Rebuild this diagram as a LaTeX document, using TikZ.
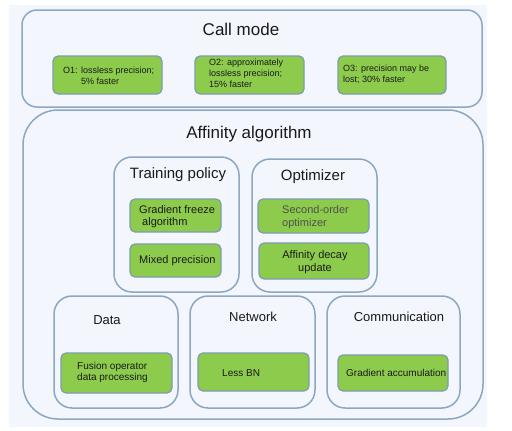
\documentclass[tikz,border=0pt]{standalone}
\usepackage{fontspec}
\setmainfont{Liberation Sans}
\definecolor{bgc}{HTML}{F3F6FD}
\definecolor{framec}{HTML}{8BA7C2}
\definecolor{gfill}{HTML}{8CCB4C}
\definecolor{gdraw}{HTML}{7D9CAE}
\definecolor{txt}{HTML}{1A1A1A}
\definecolor{graytxt}{HTML}{505050}
\tikzset{
  cbox/.style={draw=framec, line width=1.5pt, rounded corners=18pt, inner sep=0pt},
  gbox/.style={draw=gdraw, fill=gfill, line width=1.2pt, rounded corners=5pt, inner sep=0pt},
  bigtitle/.style={font=\fontsize{17}{20}\selectfont, text=txt, inner sep=0pt},
  midtitle/.style={font=\fontsize{15}{18}\selectfont, text=txt, inner sep=0pt},
  smalltitle/.style={font=\fontsize{13}{15}\selectfont, text=txt, inner sep=0pt},
  gtxtA/.style={font=\fontsize{9}{11}\selectfont, text=txt, inner sep=0pt, align=left, anchor=west},
  gtxtB/.style={font=\fontsize{10}{11}\selectfont, text=txt, inner sep=0pt, align=left, anchor=west},
  gtxtC/.style={font=\fontsize{11}{12.5}\selectfont, text=txt, inner sep=0pt, align=left, anchor=west},
}
\begin{document}
\begin{tikzpicture}[x=1pt, y=-1pt]
\useasboundingbox (0,0) rectangle (512,431);
\fill[bgc] (9,5) rectangle (487,427);

% containers
\node[cbox, rounded corners=15pt, minimum width=460pt, minimum height=97pt] (call) at (252,58.5) {};
\node[cbox, rounded corners=35pt, minimum width=460pt, minimum height=309pt] (aff) at (253,264.5) {};
\node[cbox, minimum width=125pt, minimum height=135pt] (train) at (176.5,224.5) {};
\node[cbox, minimum width=125pt, minimum height=133pt] (opt) at (314.5,225.5) {};
\node[cbox, minimum width=124pt, minimum height=112pt] (data) at (116,352) {};
\node[cbox, minimum width=125pt, minimum height=112pt] (net) at (252.5,352) {};
\node[cbox, minimum width=133pt, minimum height=112pt] (comm) at (393.5,352) {};

% titles
\node[bigtitle] (callT) at (241,29) {Call mode};
\node[bigtitle] (affT) at (249,134) {Affinity algorithm};
\node[midtitle] (trainT) at (178,175) {Training policy};
\node[midtitle] (optT) at (313,177) {Optimizer};
\node[smalltitle] (dataT) at (107,320) {Data};
\node[smalltitle] (netT) at (253,317) {Network};
\node[smalltitle] (commT) at (399,317) {Communication};

% green boxes
\node[gbox, minimum width=109pt, minimum height=38pt] (o1) at (107.5,75) {};
\node[gbox, minimum width=109pt, minimum height=38pt] (o2) at (249.5,75) {};
\node[gbox, minimum width=108pt, minimum height=38pt] (o3) at (392,75) {};
\node[gbox, minimum width=91pt, minimum height=33pt] (gf) at (175.5,215.5) {};
\node[gbox, minimum width=91pt, minimum height=33pt] (mp) at (175.5,260.5) {};
\node[gbox, minimum width=111pt, minimum height=34pt] (so) at (313.5,216) {};
\node[gbox, minimum width=110pt, minimum height=36pt] (ad) at (314,261) {};
\node[gbox, minimum width=111pt, minimum height=40pt] (fo) at (116.5,373) {};
\node[gbox, minimum width=111pt, minimum height=38pt] (lb) at (253.5,372) {};
\node[gbox, minimum width=110pt, minimum height=36pt] (ga) at (393,373) {};

% green box texts
\node[gtxtA] (o1t) at (63,75.5) {O1: lossless precision;\\\hspace*{18pt}5\% faster};
\node[gtxtA] (o2t) at (209,73) {O2: approximately\\lossless precision;\\15\% faster};
\node[gtxtA] (o3t) at (343,74) {O3: precision may be\\lost; 30\% faster};
\node[gtxtC] (gft) at (139,216.5) {Gradient freeze\\\hspace*{3pt}algorithm};
\node[gtxtC] (mpt) at (139,261) {Mixed precision};
\node[gtxtC, text=graytxt] (sot) at (282,217) {Second-order\\optimizer};
\node[gtxtC, align=center, anchor=center] (adt) at (315,262) {Affinity decay\\update};
\node[gtxtB] (fot) at (77,372.5) {Fusion operator\\data processing};
\node[gtxtB] (lbt) at (222,373) {Less BN};
\node[gtxtB] (gat) at (346,373) {Gradient accumulation};
\end{tikzpicture}
\end{document}
